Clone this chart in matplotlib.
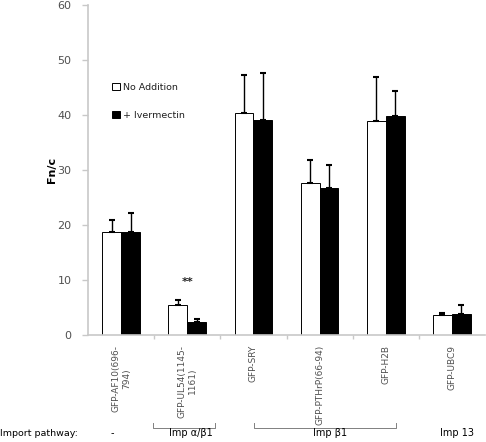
import numpy as np
import matplotlib.pyplot as plt

categories = ["GFP-AF10(696-\n794)", "GFP-UL54(1145-\n1161)", "GFP-SRY",
              "GFP-PTHrP(66-94)", "GFP-H2B", "GFP-UBC9"]
no_addition = [18.8, 5.4, 40.3, 27.6, 39.0, 3.7]
no_addition_err = [2.2, 0.9, 6.9, 4.2, 8.0, 0.3]
ivermectin = [18.7, 2.4, 39.1, 26.7, 39.9, 3.9]
ivermectin_err = [3.5, 0.5, 8.6, 4.2, 4.4, 1.5]

pathways = ["-", "Imp \u03b1/\u03b21", "Imp \u03b21", "Imp 13"]

grey = "#c8c8c8"
txt_grey = "#505050"

fig = plt.figure(figsize=(4.86, 4.42), dpi=100)
ax = fig.add_axes([88 / 486, 1 - 335 / 442, 397 / 486, 330 / 442])

x = np.arange(len(categories))
w = 0.285
err_kw = dict(ecolor="black", elinewidth=1.0, capsize=2.5, capthick=1.5)
ax.bar(x - w / 2, no_addition, w, color="white", edgecolor="black", linewidth=0.7,
       yerr=[np.zeros(len(x)), no_addition_err], error_kw=err_kw, label="No Addition")
ax.bar(x + w / 2, ivermectin, w, color="black", edgecolor="black", linewidth=0.7,
       yerr=[np.zeros(len(x)), ivermectin_err], error_kw=err_kw, label="+ Ivermectin")

ax.text(1, 9.7, "**", ha="center", va="center", fontsize=8, fontweight="bold", color="#202020")

ax.set_xlim(-0.5, len(categories) - 0.5)
ax.set_ylim(0, 60)
ax.set_yticks(range(0, 61, 10))
ax.tick_params(axis="y", colors=grey, labelcolor=txt_grey, labelsize=8, length=4, width=1, pad=8)
ax.set_xticks(x)
ax.set_xticklabels(categories, rotation=90, fontsize=6.5, color=txt_grey, va="top",
                   ha="center", multialignment="center")
ax.tick_params(axis="x", length=0, pad=7)
ax.set_xticks(np.arange(0.5, len(categories) - 0.5), minor=True)
ax.tick_params(axis="x", which="minor", length=3, colors=grey, width=1)
for s in ["top", "right"]:
    ax.spines[s].set_visible(False)
ax.spines["left"].set_color(grey)
ax.spines["left"].set_linewidth(1.2)
ax.spines["bottom"].set_color(grey)
ax.spines["bottom"].set_linewidth(1.2)

ax.set_ylabel("Fn/c", fontsize=8, fontweight="bold")
ax.yaxis.set_label_coords(-0.078, 0.5)

ax.legend(loc="upper left", bbox_to_anchor=(0.04, 0.79), frameon=False, fontsize=6.8,
          handlelength=0.8, handleheight=0.8, handletextpad=0.3, labelspacing=2.0,
          labelcolor="#202020")

# import pathway annotations
fig.text(0, 1 - 438 / 442, "Import pathway:", fontsize=6.8, va="bottom", ha="left")
label_x = [112, 191, 330, 457]
for lx, lab in zip(label_x, pathways):
    fig.text(lx / 486, 1 - 438 / 442, lab, fontsize=7, va="bottom", ha="center")

for x0, x1 in [(153, 215), (254, 396)]:
    yb = 1 - 428 / 442
    yt = 1 - 423 / 442
    fig.add_artist(plt.Line2D([x0 / 486, x0 / 486, x1 / 486, x1 / 486], [yt, yb, yb, yt],
                              color="#808080", lw=0.7, transform=fig.transFigure))

fig.savefig("out.png", dpi=100)
